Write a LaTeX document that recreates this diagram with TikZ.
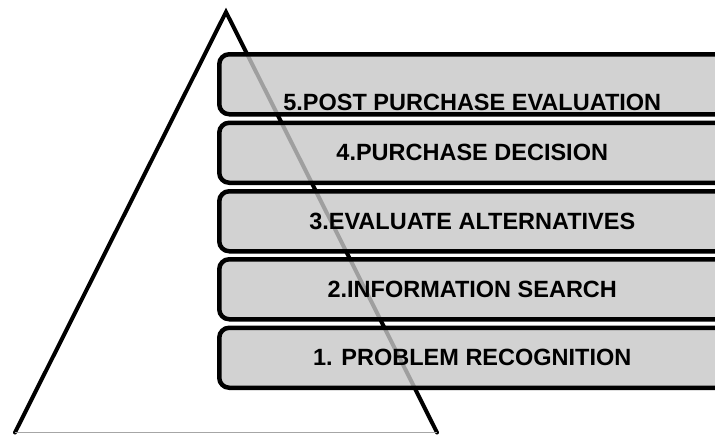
\documentclass[tikz,border=0pt]{standalone}
\usepackage{fontspec}
\setmainfont{Liberation Sans}
\begin{document}
\begin{tikzpicture}[x=1pt,y=-1pt,
  side/.style={line width=4pt,black,line cap=round},
  stagebox/.style={draw=black,line width=4.5pt,rounded corners=10pt,
    fill=gray!44!white,fill opacity=0.8,minimum width=506pt,minimum height=60pt,
    inner sep=0pt,anchor=north west},
  stagetext/.style={font=\fontsize{23.5}{26}\selectfont\bfseries,text=black}]
\useasboundingbox (0,0) rectangle (715,434);
% pyramid
\coordinate (apex) at (226,12);
\coordinate (bl) at (15,432.5);
\coordinate (br) at (437,432.5);
\draw[side] (bl) -- (apex) -- (br);
\draw[gray!70,line width=1.2pt] (bl) -- (br);
% stage boxes
\node[stagebox] (s5) at (217,52) {};
\node[stagebox] (s4) at (217,120.5) {};
\node[stagebox] (s3) at (217,189) {};
\node[stagebox] (s2) at (217,257) {};
\node[stagebox] (s1) at (217,325.5) {};
% labels
\node[stagetext] (t5) at ([yshift=-18pt]s5.center) {5.POST PURCHASE EVALUATION};
\node[stagetext] (t4) at (s4.center) {4.PURCHASE DECISION};
\node[stagetext] (t3) at (s3.center) {3.EVALUATE ALTERNATIVES};
\node[stagetext] (t2) at (s2.center) {2.INFORMATION SEARCH};
\node[stagetext] (t1) at (s1.center) {1. PROBLEM RECOGNITION};
\end{tikzpicture}
\end{document}
